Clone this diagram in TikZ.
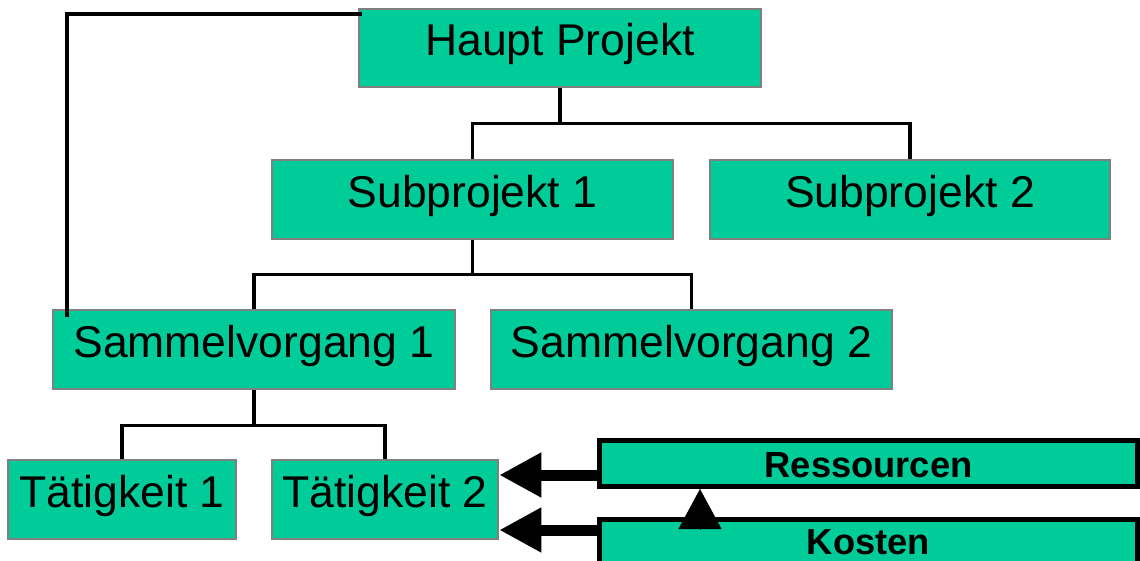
\documentclass[tikz,border=0pt]{standalone}
\usepackage{fontspec}
\setmainfont{Liberation Sans}
\usetikzlibrary{arrows.meta}
\definecolor{tealfill}{HTML}{00CC99}
\definecolor{boxgray}{HTML}{808080}
\begin{document}
\begin{tikzpicture}[x=1pt,y=-1pt,
  box/.style={draw=boxgray, line width=2.5pt, fill=tealfill, inner sep=0pt,
    minimum height=79pt, text height=32pt, text depth=17pt,
    font=\fontsize{44.5}{50}\selectfont},
  rbox/.style={draw=black, line width=5pt, fill=tealfill, inner sep=0pt,
    minimum width=538pt, minimum height=46pt, text depth=0pt,
    font=\bfseries\fontsize{36.3}{40}\selectfont},
  conn/.style={line width=3.3pt},
  bigline/.style={line width=4.5pt},
  fat/.style={line width=11pt, -{Triangle[length=42pt,width=42pt]}},
  tri/.style={line width=0.4pt, -{Triangle[length=40pt,width=43pt]}},
]
\useasboundingbox (0,0) rectangle (1140,560);

\node[box, minimum width=402pt, minimum height=78pt] (haupt) at (560,48) {Haupt Projekt};
\node[box, minimum width=401pt] (sub1) at (472.5,199.5) {Subprojekt 1};
\node[box, minimum width=400pt] (sub2) at (910,199.5) {Subprojekt 2};
\node[box, minimum width=402pt] (sam1) at (254,349.5) {Sammelvorgang 1};
\node[box, minimum width=401pt] (sam2) at (691.5,349.5) {Sammelvorgang 2};
\node[box, minimum width=228pt] (t1) at (122,499.5) {T\"atigkeit 1};
\node[box, minimum width=226pt] (t2) at (385,499.5) {T\"atigkeit 2};

\node[rbox, text height=27pt] (res) at (868.5,463.5) {Ressourcen};
\node[rbox, text height=23pt] (kos) at (868.5,542.5) {Kosten};

% tree connectors
\draw[conn] (haupt.south) -- ++(0,35) coordinate (h1);
\draw[conn] (sub1.north) |- (h1) -| (sub2.north);
\draw[conn] (sub1.south) -- ++(0,34) coordinate (h2);
\draw[conn] (sam1.north) |- (h2) -| (sam2.north);
\draw[conn] (sam1.south) -- ++(0,35) coordinate (h3);
\draw[conn] (t1.north) |- (h3) -| (t2.north);

% left line
\draw[bigline] ([xshift=4pt,yshift=-6pt]haupt.north west) -| ([xshift=15pt,yshift=-8pt]sam1.north west);

% arrows
\coordinate (ra) at ([yshift=-11.5pt]res.west);
\coordinate (ka) at ([yshift=12.5pt]kos.west);
\draw[fat] (ra) -- (t2.east |- ra);
\draw[fat] (ka) -- (t2.east |- ka);
\coordinate (kb) at (700,529);
\draw[tri] (kb) -- (kb |- res.south);
\end{tikzpicture}
\end{document}
